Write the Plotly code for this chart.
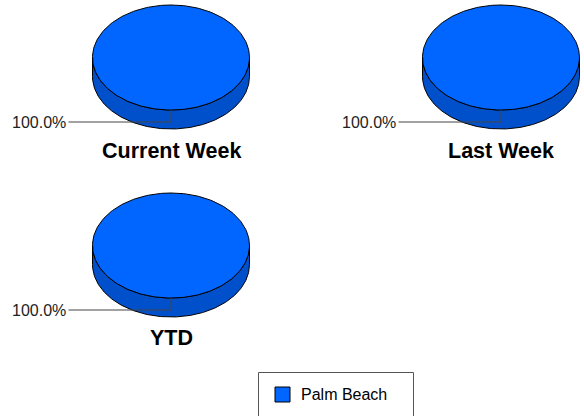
import numpy as np
import plotly.graph_objects as go

# --- data ---
panel_titles = ["Current Week", "Last Week", "YTD"]
series_labels = ["Palm Beach"]
panel_shares = [[100.0], [100.0], [100.0]]

# --- styling / placement (pixel space) ---
W, H = 584, 416
panel_centers = [(171.0, 57.5), (501.0, 57.5), (171.0, 245.5)]
label_right_x = [67.5, 397.5, 67.5]
title_y = [150.5, 150.5, 337.5]
RX, RY, DEPTH = 78.5, 52.5, 19.0
LEADER_DROP = 12.0
top_colors = ["#0066FF"]
side_colors = ["#0050CC"]

fig = go.Figure()


def ellipse_pts(cx, cy, a0, a1, n=240):
    t = np.linspace(a0, a1, n)
    return cx + RX * np.cos(t), cy - RY * np.sin(t)


for p, (title, shares) in enumerate(zip(panel_titles, panel_shares)):
    cx, cy = panel_centers[p]
    total = sum(shares)

    # side wall: front half of the rim, extruded downward
    ax, ay = ellipse_pts(cx, cy, np.pi, 2 * np.pi)
    sx = np.concatenate([ax, ax[::-1], ax[:1]])
    sy = np.concatenate([ay, (ay + DEPTH)[::-1], ay[:1]])
    fig.add_trace(go.Scatter(x=sx, y=sy, mode="lines", fill="toself",
                             fillcolor=side_colors[0],
                             line=dict(color="#000000", width=1),
                             hoverinfo="skip", showlegend=False))

    # top face wedges, clockwise from 12 o'clock
    start = np.pi / 2
    for i, v in enumerate(shares):
        sweep = 2 * np.pi * v / total
        wx, wy = ellipse_pts(cx, cy, start, start - sweep)
        if v < total:
            wx = np.concatenate([[cx], wx, [cx]])
            wy = np.concatenate([[cy], wy, [cy]])
        fig.add_trace(go.Scatter(x=wx, y=wy, mode="lines", fill="toself",
                                 fillcolor=top_colors[i % len(top_colors)],
                                 line=dict(color="#000000", width=1),
                                 name=series_labels[i],
                                 hoverinfo="skip", showlegend=False))

        # leader line from the wedge mid-angle to the percentage label
        mid = start - sweep / 2
        mx = cx + RX * np.cos(mid)
        my = cy - RY * np.sin(mid)
        ly = my + LEADER_DROP
        fig.add_trace(go.Scatter(x=[mx, mx, label_right_x[p] + 1], y=[my, ly, ly],
                                 mode="lines",
                                 line=dict(color="#444444", width=1),
                                 hoverinfo="skip", showlegend=False))
        fig.add_annotation(x=label_right_x[p], y=ly, text=f"{100 * v / total:.1f}%",
                           xanchor="right", yanchor="middle", showarrow=False,
                           font=dict(family="Liberation Sans, Arial", size=16,
                                     color="#222222"))
        start -= sweep

    fig.add_annotation(x=cx, y=title_y[p], text=f"<b>{title}</b>",
                       xanchor="center", yanchor="middle", showarrow=False,
                       font=dict(family="Liberation Sans, Arial", size=21.5,
                                 color="#000000"))

# legend box
fig.add_shape(type="rect", x0=258.5, x1=413.5, y0=372.5, y1=430,
              line=dict(color="#555555", width=1), fillcolor="rgba(0,0,0,0)")
for i, name in enumerate(series_labels):
    fig.add_trace(go.Scatter(x=[282.5], y=[394.5], mode="markers",
                             marker=dict(symbol="square", size=15,
                                         color=top_colors[i],
                                         line=dict(color="#000000", width=1)),
                             hoverinfo="skip", showlegend=False))
    fig.add_annotation(x=299, y=394.5, text=name, xanchor="left",
                       yanchor="middle", showarrow=False,
                       font=dict(family="Liberation Sans, Arial", size=16,
                                 color="#000000"))

fig.update_layout(
    width=W, height=H,
    margin=dict(l=0, r=0, t=0, b=0),
    paper_bgcolor="#FFFFFF", plot_bgcolor="#FFFFFF",
    xaxis=dict(range=[0, W], visible=False, fixedrange=True),
    yaxis=dict(range=[H, 0], visible=False, fixedrange=True),
    showlegend=False,
)

fig.write_html("out.html")
